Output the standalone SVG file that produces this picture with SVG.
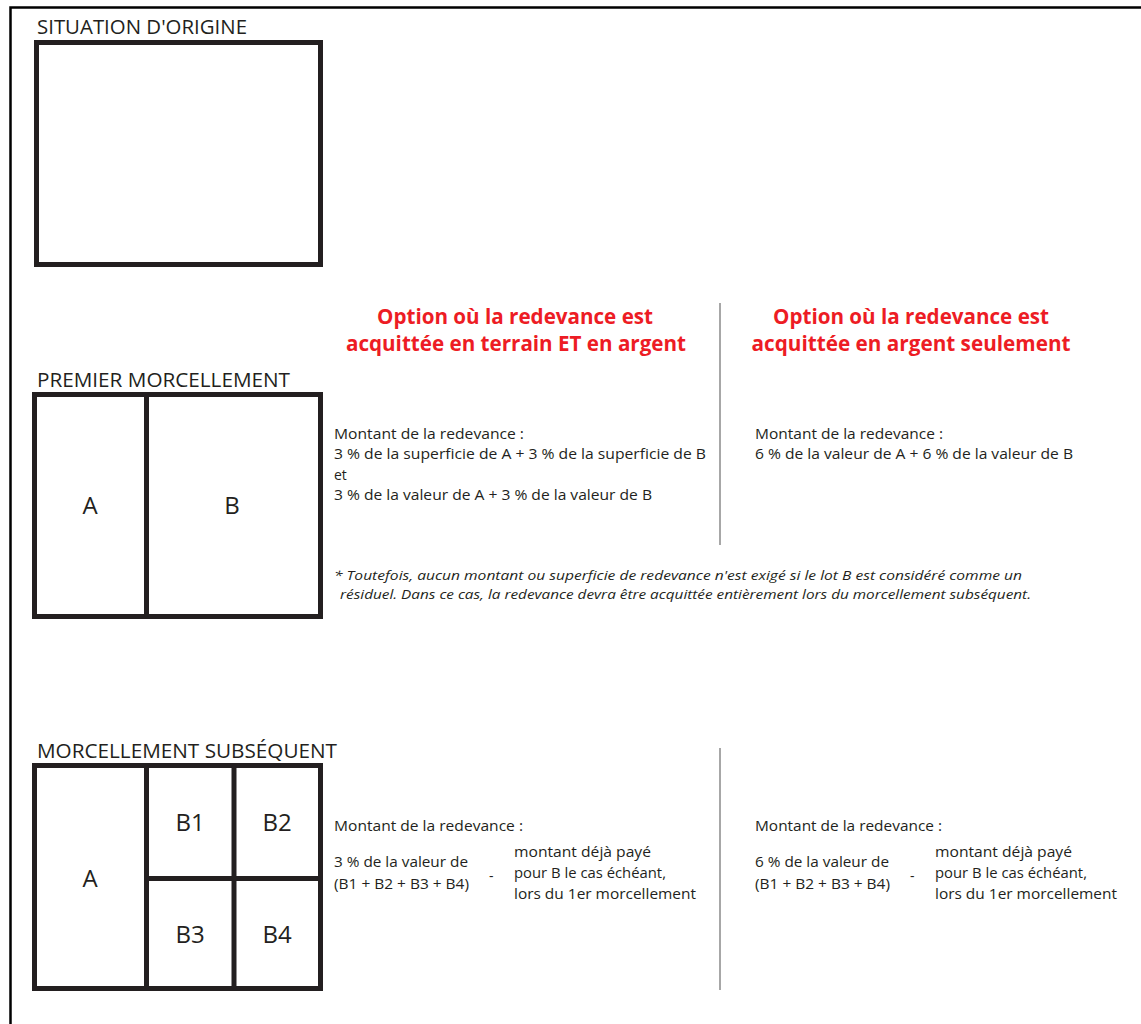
<svg xmlns="http://www.w3.org/2000/svg" width="1141" height="1024" viewBox="0 0 1141 1024">
<style>
.frame{fill:none;stroke:#000;stroke-width:2.5}
.lot{fill:#fff;stroke:#231f20;stroke-width:5}
.div{stroke:#231f20;stroke-width:5}
.sep{stroke:#8a8a8a;stroke-width:1.5}
.title{font-family:"Open Sans","Noto Sans",sans-serif;font-size:20px;fill:#231f20}
.lbl{font-family:"Open Sans","Noto Sans",sans-serif;font-size:24px;fill:#231f20;text-anchor:middle}
.red{font-family:"Open Sans","Noto Sans",sans-serif;font-size:21px;font-weight:bold;fill:#ed1c24;text-anchor:middle}
.body{font-family:"Open Sans","Noto Sans",sans-serif;font-size:14px;fill:#231f20}
.note{font-family:"Open Sans","Noto Sans",sans-serif;font-size:13px;font-style:italic;fill:#231f20}
</style>
<rect width="1141" height="1024" fill="#fff"/>
<path class="frame" d="M10.5 1024 V7.5 H1141"/>

<g id="situation-origine">
<text class="title" x="37" y="34" textLength="210" lengthAdjust="spacingAndGlyphs">SITUATION D'ORIGINE</text>
<rect class="lot" x="36.5" y="42.5" width="284" height="222"/>
</g>

<g id="premier-morcellement">
<text class="title" x="37" y="387" textLength="253" lengthAdjust="spacingAndGlyphs">PREMIER MORCELLEMENT</text>
<rect class="lot" x="34.5" y="394.5" width="286" height="222"/>
<line class="div" x1="146.5" y1="394.5" x2="146.5" y2="616.5"/>
<text class="lbl" x="90" y="514">A</text>
<text class="lbl" x="232" y="514">B</text>
</g>

<g id="morcellement-subsequent">
<text class="title" x="37" y="758" textLength="300" lengthAdjust="spacingAndGlyphs">MORCELLEMENT SUBSÉQUENT</text>
<rect class="lot" x="34.5" y="765.5" width="286" height="223"/>
<line class="div" x1="146.5" y1="765.5" x2="146.5" y2="988.5"/>
<line class="div" x1="234" y1="765.5" x2="234" y2="988.5"/>
<line class="div" x1="146.5" y1="878.5" x2="320.5" y2="878.5"/>
<text class="lbl" x="90" y="887">A</text>
<text class="lbl" x="190" y="831">B1</text>
<text class="lbl" x="277" y="831">B2</text>
<text class="lbl" x="190" y="943">B3</text>
<text class="lbl" x="277" y="943">B4</text>
</g>

<g id="separators">
<line class="sep" x1="720" y1="303" x2="720" y2="545"/>
<line class="sep" x1="720" y1="748" x2="720" y2="990"/>
</g>

<g id="option-terrain-argent">
<text class="red" x="515" y="324" textLength="276" lengthAdjust="spacingAndGlyphs">Option où la redevance est</text>
<text class="red" x="516" y="351" textLength="340" lengthAdjust="spacingAndGlyphs">acquittée en terrain ET en argent</text>
<text class="body" x="334" y="439" textLength="190" lengthAdjust="spacingAndGlyphs">Montant de la redevance :</text>
<text class="body" x="334" y="459" textLength="372" lengthAdjust="spacingAndGlyphs">3 % de la superficie de A + 3 % de la superficie de B</text>
<text class="body" x="334" y="480">et</text>
<text class="body" x="334" y="500" textLength="318" lengthAdjust="spacingAndGlyphs">3 % de la valeur de A + 3 % de la valeur de B</text>
</g>

<g id="option-argent">
<text class="red" x="911" y="324" textLength="276" lengthAdjust="spacingAndGlyphs">Option où la redevance est</text>
<text class="red" x="911" y="351" textLength="319" lengthAdjust="spacingAndGlyphs">acquittée en argent seulement</text>
<text class="body" x="755" y="439" textLength="188" lengthAdjust="spacingAndGlyphs">Montant de la redevance :</text>
<text class="body" x="755" y="459" textLength="318" lengthAdjust="spacingAndGlyphs">6 % de la valeur de A + 6 % de la valeur de B</text>
</g>

<g id="note">
<text class="note" x="334" y="580" textLength="688" lengthAdjust="spacingAndGlyphs">* Toutefois, aucun montant ou superficie de redevance n'est exigé si le lot B est considéré comme un</text>
<text class="note" x="340" y="599" textLength="691" lengthAdjust="spacingAndGlyphs">résiduel. Dans ce cas, la redevance devra être acquittée entièrement lors du morcellement subséquent.</text>
</g>

<g id="subsequent-terrain-argent">
<text class="body" x="334" y="831" textLength="189" lengthAdjust="spacingAndGlyphs">Montant de la redevance :</text>
<text class="body" x="334" y="867" textLength="134" lengthAdjust="spacingAndGlyphs">3 % de la valeur de</text>
<text class="body" x="334" y="889" textLength="135" lengthAdjust="spacingAndGlyphs">(B1 + B2 + B3 + B4)</text>
<text class="body" x="489" y="881">-</text>
<text class="body" x="514" y="857" textLength="137" lengthAdjust="spacingAndGlyphs">montant déjà payé</text>
<text class="body" x="514" y="878" textLength="152" lengthAdjust="spacingAndGlyphs">pour B le cas échéant,</text>
<text class="body" x="514" y="899" textLength="182" lengthAdjust="spacingAndGlyphs">lors du 1er morcellement</text>
</g>

<g id="subsequent-argent">
<text class="body" x="755" y="831" textLength="187" lengthAdjust="spacingAndGlyphs">Montant de la redevance :</text>
<text class="body" x="755" y="867" textLength="134" lengthAdjust="spacingAndGlyphs">6 % de la valeur de</text>
<text class="body" x="755" y="889" textLength="135" lengthAdjust="spacingAndGlyphs">(B1 + B2 + B3 + B4)</text>
<text class="body" x="910" y="881">-</text>
<text class="body" x="935" y="857" textLength="137" lengthAdjust="spacingAndGlyphs">montant déjà payé</text>
<text class="body" x="935" y="878" textLength="152" lengthAdjust="spacingAndGlyphs">pour B le cas échéant,</text>
<text class="body" x="935" y="899" textLength="182" lengthAdjust="spacingAndGlyphs">lors du 1er morcellement</text>
</g>
</svg>
